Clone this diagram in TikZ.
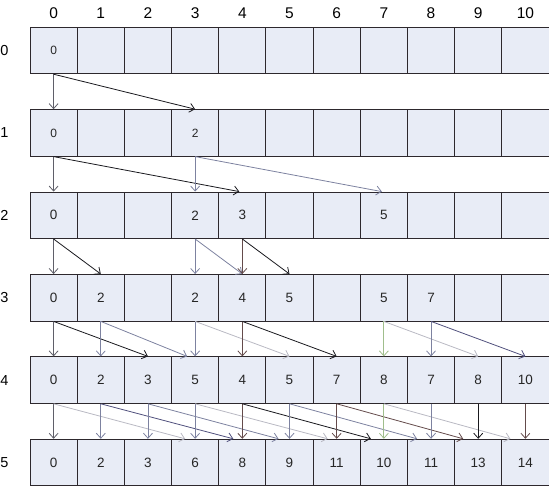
\documentclass[tikz,border=0pt]{standalone}
\usepackage{fontspec}
\setmainfont{Liberation Sans}
\usetikzlibrary{arrows.meta}
\definecolor{cellfill}{RGB}{232,236,246}
\definecolor{cellline}{RGB}{45,40,45}
\definecolor{dkgrey}{RGB}{95,95,105}
\definecolor{blk}{RGB}{25,25,30}
\definecolor{bluegrey}{RGB}{125,130,160}
\definecolor{ltgrey}{RGB}{185,185,195}
\definecolor{greenish}{RGB}{160,190,140}
\definecolor{brgrey}{RGB}{100,75,75}
\definecolor{dkblue}{RGB}{80,80,125}
\tikzstyle{cell} = [rectangle, draw=cellline, fill=cellfill, line width=0.9pt, minimum width=47.2pt, minimum height=46.5pt, inner sep=0pt, text centered, text=black!85]
\tikzstyle{collabel} = [font=\fontsize{15.5}{18}\selectfont, inner sep=0pt]
\tikzstyle{rowlabel} = [font=\fontsize{14.5}{17}\selectfont, inner sep=0pt]
\tikzstyle{arrow} = [line width=0.8pt,-{Straight Barb[length=5pt,width=9pt]}]

\begin{document}
\begin{tikzpicture}[x=1pt,y=-1pt]
\useasboundingbox (0,0) rectangle (549,487);
% capacity along the top
\foreach \c in {0,...,10}
    \node (h\c) [collabel] at (53.6+47.18*\c, 13) {\c};
% one row of the table per item
\foreach \r/\sz/\vals in {0/12/{0,,,,,,,,,,}, 1/12/{0,,,2,,,,,,,}, 2/13.5/{0,,,2,3,,,5,,,},
        3/13.5/{0,2,,2,4,5,,5,7,,}, 4/13.5/{0,2,3,5,4,5,7,8,7,8,10}, 5/13.5/{0,2,3,6,8,9,11,10,11,13,14}}{
    \node (l\r) [rowlabel] at (4.5, 50.5+82.4*\r) {\r};
    \foreach \v [count=\c from 0] in \vals
        \node (t\r-\c) [cell] at (53.6+47.18*\c, 50.5+82.4*\r) {\fontsize{\sz}{16}\selectfont\v};
}
% arrows: row / from / to / colour / shift of the tip
\foreach \r/\a/\b/\col/\dx [evaluate=\r as \s using int(\r+1)] in {
        0/0/0/dkgrey/0, 0/0/3/blk/0,
        1/0/0/dkgrey/0, 1/0/4/blk/-3, 1/3/3/bluegrey/0, 1/3/7/bluegrey/-2,
        2/0/0/dkgrey/0, 2/0/1/blk/0, 2/3/3/bluegrey/0, 2/3/4/bluegrey/0, 2/4/4/brgrey/0, 2/4/5/blk/0,
        3/0/0/dkgrey/0, 3/0/2/blk/0, 3/1/1/bluegrey/0, 3/1/3/bluegrey/-8, 3/3/3/bluegrey/0, 3/3/5/ltgrey/0,
        3/4/4/brgrey/0, 3/4/6/blk/0, 3/7/7/greenish/0, 3/7/9/ltgrey/0, 3/8/8/bluegrey/0, 3/8/10/dkblue/0,
        4/0/0/dkgrey/0, 4/0/3/ltgrey/-10, 4/1/1/bluegrey/0, 4/1/4/dkblue/-9, 4/2/2/bluegrey/0, 4/2/5/bluegrey/-11,
        4/3/3/bluegrey/0, 4/3/6/ltgrey/-9, 4/4/4/brgrey/0, 4/4/7/blk/-13, 4/5/5/bluegrey/0, 4/5/8/bluegrey/-14,
        4/6/6/brgrey/0, 4/6/9/brgrey/-15, 4/7/7/greenish/0, 4/7/10/ltgrey/-15, 4/8/8/bluegrey/0, 4/9/9/blk/0,
        4/10/10/brgrey/0}
    \draw [arrow, draw=\col] (t\r-\a.south) -- ([xshift=\dx pt]t\s-\b.north);
\end{tikzpicture}
\end{document}
